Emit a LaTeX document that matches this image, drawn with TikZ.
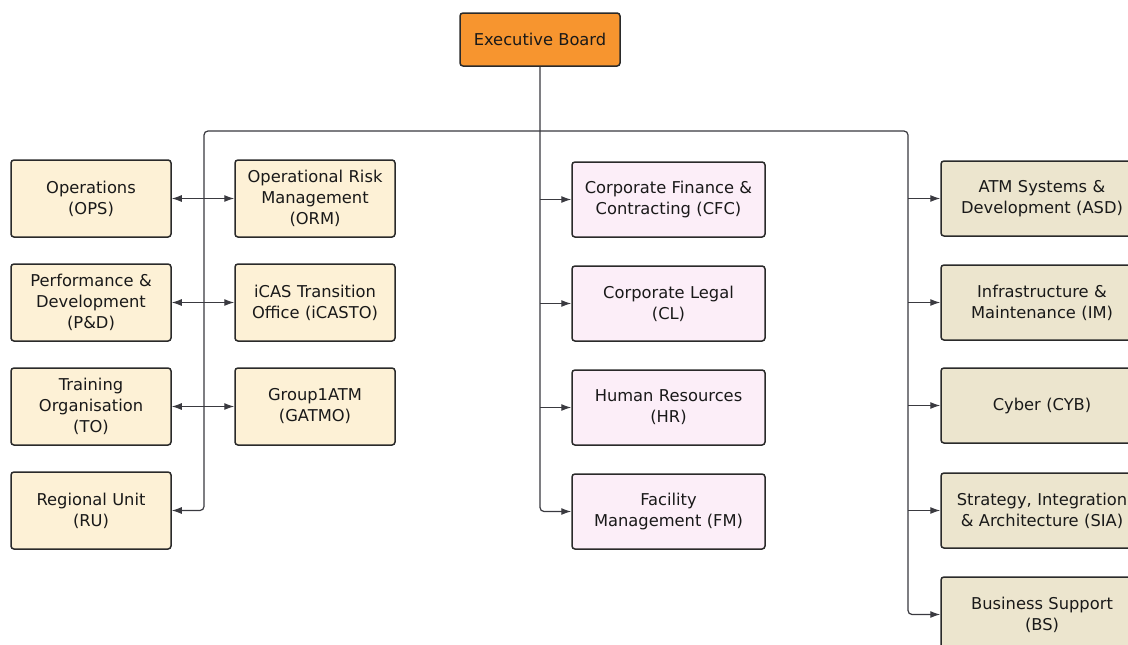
\documentclass[tikz,border=0pt]{standalone}
\usepackage{fontspec}
\setmainfont{DejaVu Sans}
\usetikzlibrary{arrows.meta}
\definecolor{ebfill}{HTML}{F7952F}
\definecolor{creamfill}{HTML}{FDF1D6}
\definecolor{pinkfill}{HTML}{FCEEF8}
\definecolor{tanfill}{HTML}{ECE5CE}
\definecolor{edge}{HTML}{2A2A2A}
\definecolor{wire}{HTML}{3A3A40}
\tikzset{
  unit/.style={draw=edge, line width=1.5pt, rounded corners=3pt, align=center,
    font=\fontsize{16.3}{21}\selectfont, text=black!90, inner sep=0pt},
  leftbox/.style={unit, fill=creamfill, minimum width=160pt, minimum height=77pt, text width=158pt},
  midbox/.style={unit, fill=pinkfill, minimum width=193pt, minimum height=75pt, text width=191pt},
  rightbox/.style={unit, fill=tanfill, minimum width=202pt, minimum height=75pt, text width=200pt},
  wireline/.style={draw=wire, line width=1.2pt},
  arr/.style={wireline, -{Latex[length=10pt,width=7pt]}},
  darr/.style={wireline, {Latex[length=10pt,width=7pt]}-{Latex[length=10pt,width=7pt]}}
}
\begin{document}
\begin{tikzpicture}[x=1pt,y=-1pt]
\useasboundingbox (0,0) rectangle (1128,645);
\clip (0,0) rectangle (1128,645);
\fill[white] (0,0) rectangle (1128,645);

% Executive board
\node[unit, fill=ebfill, minimum width=160pt, minimum height=53pt] (eb) at (540,39.5) {Executive Board};

% left column
\node[leftbox] (ops) at (91,198.5) {Operations\\(OPS)};
\node[leftbox] (pd)  at (91,302.5) {Performance \&\\Development\\(P\&D)};
\node[leftbox] (to)  at (91,406.5) {Training\\Organisation\\(TO)};
\node[leftbox] (ru)  at (91,510.5) {Regional Unit\\(RU)};

% second column
\node[leftbox] (orm)   at (315,198.5) {Operational Risk\\Management\\(ORM)};
\node[leftbox] (icasto) at (315,302.5) {iCAS Transition\\Office (iCASTO)};
\node[leftbox] (gatmo) at (315,406.5) {Group1ATM\\(GATMO)};

% centre column
\node[midbox] (cfc) at (668.5,199.5) {Corporate Finance \&\\Contracting (CFC)};
\node[midbox] (cl)  at (668.5,303.5) {Corporate Legal\\(CL)};
\node[midbox] (hr)  at (668.5,407.5) {Human Resources\\(HR)};
\node[midbox] (fm)  at (668.5,511.5) {Facility\\Management (FM)};

% right column
\node[rightbox] (asd) at (1042,198.5) {ATM Systems \&\\Development (ASD)};
\node[rightbox] (im)  at (1042,302.5) {Infrastructure \&\\Maintenance (IM)};
\node[rightbox] (cyb) at (1042,405.5) {Cyber (CYB)};
\node[rightbox] (sia) at (1042,510.5) {Strategy, Integration\\\& Architecture (SIA)};
\node[rightbox] (bs)  at (1042,614.5) {Business Support\\(BS)};

% bus coordinates
\coordinate (bl) at (204,131);
\coordinate (br) at (908,131);

% trunk
\draw[arr, rounded corners=4pt] (eb.south) |- (fm.west);
\draw[arr] (eb.south |- cfc.west) -- (cfc.west);
\draw[arr] (eb.south |- cl.west) -- (cl.west);
\draw[arr] (eb.south |- hr.west) -- (hr.west);

% left bus
\draw[arr, rounded corners=4pt] (eb.south |- bl) -- (bl) |- (ru.east);
\draw[darr] (ops.east) -- (orm.west);
\draw[darr] (pd.east) -- (icasto.west);
\draw[darr] (to.east) -- (gatmo.west);

% right bus
\draw[arr, rounded corners=4pt] (eb.south |- br) -- (br) |- (bs.west);
\draw[arr] (br |- asd.west) -- (asd.west);
\draw[arr] (br |- im.west) -- (im.west);
\draw[arr] (br |- cyb.west) -- (cyb.west);
\draw[arr] (br |- sia.west) -- (sia.west);
\end{tikzpicture}
\end{document}
